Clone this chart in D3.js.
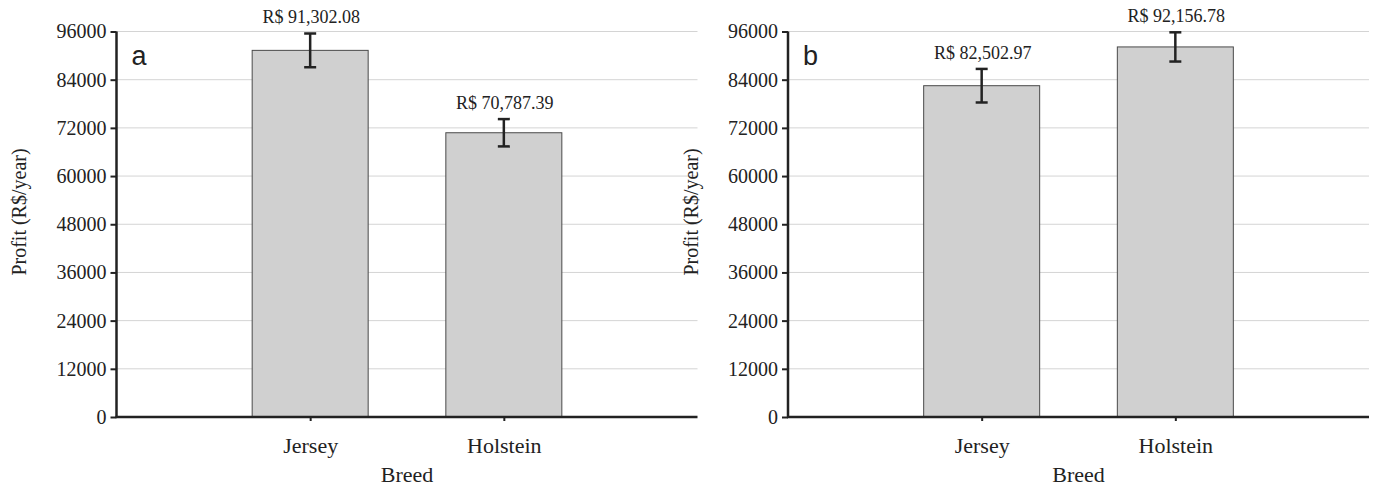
<!DOCTYPE html>
<html>
<head>
<meta charset="utf-8">
<script src="https://cdn.jsdelivr.net/npm/d3@7"></script>
<style>
  html, body { margin: 0; padding: 0; background: #fff; }
  svg { display: block; }
</style>
</head>
<body>
<svg id="chart" width="1374" height="488"></svg>
<script>
// ---- data ----
const categories = ["Jersey", "Holstein"];
const panelLetters = ["a", "b"];
const profitA = [91302.08, 70787.39];
const errorA = [4200, 3400];
const profitB = [82502.97, 92156.78];
const errorB = [4180, 3640];
const yTicks = [0, 12000, 24000, 36000, 48000, 60000, 72000, 84000, 96000];
const yMax = 96000;
const xTitle = "Breed";
const yTitle = "Profit (R$/year)";

const fmt = v => "R$ " + d3.format(",.2f")(v);

const svg = d3.select("#chart");
const serif = "'Liberation Serif', 'Times New Roman', serif";
const sans = "'Liberation Sans', Arial, sans-serif";

function drawPanel(offsetX, letter, values, errors) {
  const left = 116.5 + offsetX, right = 697.5 + offsetX;
  const top = 31.5, bottom = 417;
  const g = svg.append("g");

  const x = d3.scalePoint().domain(categories).range([left, right]).padding(1);
  const y = d3.scaleLinear().domain([0, yMax]).range([bottom, top]);
  const barW = 116;

  // gridlines
  g.selectAll(".grid").data(yTicks.filter(t => t > 0)).enter().append("line")
    .attr("x1", left).attr("x2", right)
    .attr("y1", d => y(d)).attr("y2", d => y(d))
    .attr("stroke", "#d4d4d4").attr("stroke-width", 1);

  // bars
  g.selectAll(".bar").data(values).enter().append("rect")
    .attr("x", (d, i) => x(categories[i]) - barW / 2)
    .attr("y", d => y(d))
    .attr("width", barW)
    .attr("height", d => bottom - y(d))
    .attr("fill", "#d0d0d0")
    .attr("stroke", "#4a4a4a").attr("stroke-width", 1);

  // error bars
  const cap = 12;
  values.forEach((v, i) => {
    const cx = x(categories[i]);
    const y1 = y(v + errors[i]), y2 = y(v - errors[i]);
    g.append("line").attr("x1", cx).attr("x2", cx).attr("y1", y1).attr("y2", y2)
      .attr("stroke", "#222").attr("stroke-width", 2.5);
    [y1, y2].forEach(yy => g.append("line")
      .attr("x1", cx - cap / 2).attr("x2", cx + cap / 2).attr("y1", yy).attr("y2", yy)
      .attr("stroke", "#222").attr("stroke-width", 2.5));
    g.append("text").attr("x", cx + 1).attr("y", y1 - 10)
      .attr("text-anchor", "middle")
      .attr("font-family", serif).attr("font-size", 18).attr("fill", "#222")
      .text(fmt(v));
  });

  // y axis
  const yAxis = d3.axisLeft(y).tickValues(yTicks).tickSize(6).tickPadding(4).tickFormat(d3.format("d"));
  const ya = g.append("g").attr("transform", `translate(${left},0)`).call(yAxis);
  ya.select(".domain").attr("stroke", "#222").attr("stroke-width", 2.5)
    .attr("d", `M0,${top}V${bottom + 1}`);
  ya.selectAll(".tick line").attr("stroke", "#222").attr("stroke-width", 2);
  ya.selectAll(".tick text").attr("font-family", serif).attr("font-size", 20).attr("fill", "#222");

  // x axis
  const xAxis = d3.axisBottom(x).tickSize(4).tickPadding(16);
  const xa = g.append("g").attr("transform", `translate(0,${bottom})`).call(xAxis);
  xa.select(".domain").attr("stroke", "#222").attr("stroke-width", 2.5)
    .attr("d", `M${left - 1},0H${right}`);
  xa.selectAll(".tick line").attr("stroke", "#222").attr("stroke-width", 2);
  xa.selectAll(".tick text").attr("font-family", serif).attr("font-size", 22).attr("fill", "#222");

  // axis titles
  g.append("text").attr("x", (left + right) / 2).attr("y", 482)
    .attr("text-anchor", "middle").attr("font-family", serif).attr("font-size", 22).attr("fill", "#222")
    .text(xTitle);
  g.append("text").attr("transform", `translate(${26 + offsetX},212) rotate(-90)`)
    .attr("text-anchor", "middle").attr("font-family", serif).attr("font-size", 20).attr("fill", "#222")
    .text(yTitle);

  // panel letter
  g.append("text").attr("x", left + 15).attr("y", 65)
    .attr("font-family", sans).attr("font-size", 27).attr("fill", "#222")
    .text(letter);
}

drawPanel(0, panelLetters[0], profitA, errorA);
drawPanel(671.5, panelLetters[1], profitB, errorB);
</script>
</body>
</html>
